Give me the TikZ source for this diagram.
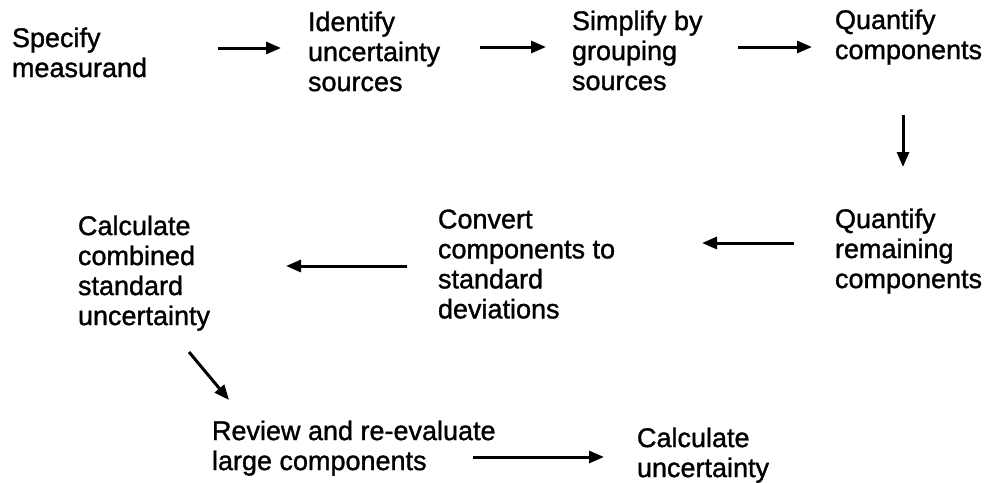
\documentclass[tikz,border=0pt]{standalone}
\usepackage{fontspec}
\setmainfont[FakeBold=1.2]{Liberation Sans}
\usetikzlibrary{arrows.meta}
\begin{document}
\begin{tikzpicture}[x=1pt,y=-1pt,
  stepbox/.style={anchor=north west, inner sep=0pt, outer sep=0pt, align=left,
    font=\fontsize{27pt}{30pt}\selectfont},
  flow/.style={line width=3pt, -{Triangle[length=15pt,width=12pt]}}]
\useasboundingbox (0,0) rectangle (990,482);
\fill[white] (0,0) rectangle (990,482);

\node[stepbox] (spec)    at (12,27.5)   {Specify\\measurand};
\node[stepbox] (ident)   at (308,11.5)  {Identify\\uncertainty\\sources};
\node[stepbox] (simp)    at (572,10.5)  {Simplify by\\grouping\\sources};
\node[stepbox] (quantA)  at (835,9.5)   {Quantify\\components};
\node[stepbox] (quantB)  at (835,208.5) {Quantify\\remaining\\components};
\node[stepbox] (conv)    at (438,209.5) {Convert\\components to\\standard\\deviations};
\node[stepbox] (calc)    at (78,215.5)  {Calculate\\combined\\standard\\uncertainty};
\node[stepbox] (review)  at (212,420.5) {Review and re-evaluate\\large components};
\node[stepbox] (calcunc) at (637,427.5) {Calculate\\uncertainty};

\coordinate (a1s) at (218,48);  \coordinate (a1e) at (281,48);
\coordinate (a2s) at (480,47);  \coordinate (a2e) at (546,47);
\coordinate (a3s) at (738,47);  \coordinate (a3e) at (812,47);
\coordinate (a4s) at (903,115); \coordinate (a4e) at (903,167);
\coordinate (a5s) at (794,243); \coordinate (a5e) at (702,243);
\coordinate (a6s) at (407,266); \coordinate (a6e) at (286,266);
\coordinate (a7s) at (189,352); \coordinate (a7e) at (229,400);
\coordinate (a8s) at (473,457); \coordinate (a8e) at (604,457);

\draw[flow] (a1s) -- (a1e);
\draw[flow] (a2s) -- (a2e);
\draw[flow] (a3s) -- (a3e);
\draw[flow] (a4s) -- (a4e);
\draw[flow] (a5s) -- (a5e);
\draw[flow] (a6s) -- (a6e);
\draw[flow] (a7s) -- (a7e);
\draw[flow] (a8s) -- (a8e);
\end{tikzpicture}
\end{document}
